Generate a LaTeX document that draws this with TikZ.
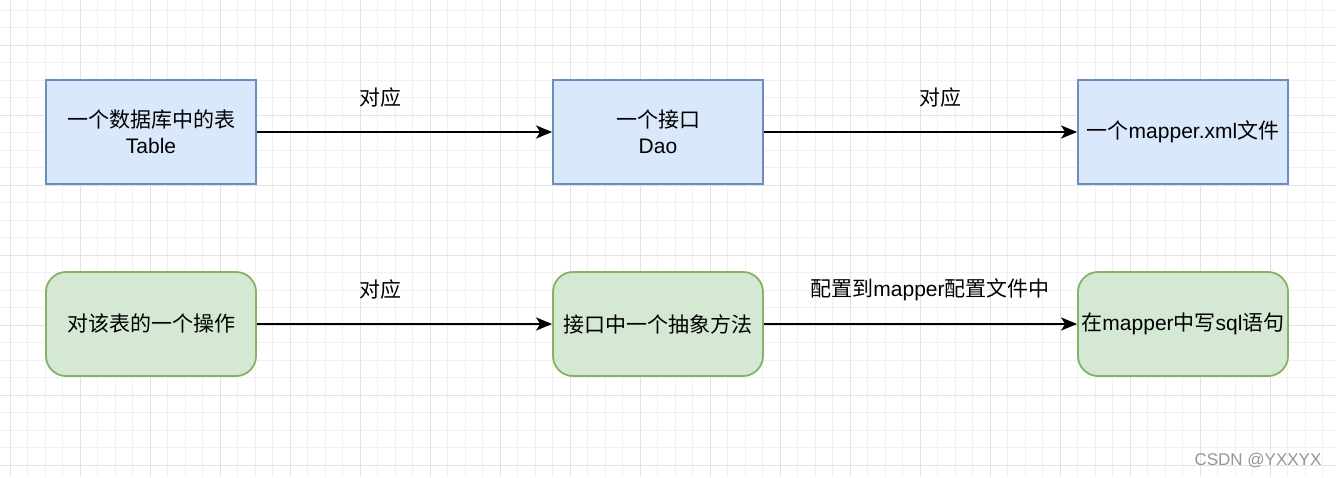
\documentclass[tikz,border=0pt]{standalone}
\usepackage{fontspec}
\setmainfont{Liberation Sans}
\newfontfamily\cjk{Noto Sans CJK SC}
\usetikzlibrary{arrows.meta}
\tikzset{
  bluebox/.style={draw={rgb,255:red,108;green,142;blue,191}, fill={rgb,255:red,218;green,232;blue,252}, line width=1.8pt, minimum width=210pt, minimum height=104pt, align=center, inner sep=0pt, font=\fontsize{21}{26}\selectfont},
  greenbox/.style={draw={rgb,255:red,130;green,179;blue,102}, fill={rgb,255:red,213;green,232;blue,212}, line width=1.8pt, rounded corners=20pt, minimum width=210pt, minimum height=104pt, align=center, inner sep=0pt, font=\fontsize{21}{26}\selectfont},
  lbl/.style={inner sep=0pt, font=\fontsize{21}{26}\selectfont},
  arr/.style={line width=2pt, -{Stealth[length=16pt,width=13pt,inset=4pt]}},
  minorgrid/.style={draw={rgb,255:red,240;green,240;blue,240}, line width=0.8pt},
  majorgrid/.style={draw={rgb,255:red,226;green,226;blue,226}, line width=0.9pt}
}
\begin{document}
\begin{tikzpicture}[x=1pt,y=-1pt]
\fill[white] (0,0) rectangle (1336,477);
\useasboundingbox (0,0) rectangle (1336,477);
\begin{scope}
\clip (0,0) rectangle (1336,477);
\foreach \i in {0,...,78} {
  \draw[minorgrid] ({-7.5+17.5*\i},0) -- ({-7.5+17.5*\i},477);
}
\foreach \i in {0,...,28} {
  \draw[minorgrid] (0,{-7.5+17.5*\i}) -- (1336,{-7.5+17.5*\i});
}
\foreach \i in {0,...,19} {
  \draw[majorgrid] ({10+70*\i},0) -- ({10+70*\i},477);
}
\foreach \i in {-1,...,7} {
  \draw[majorgrid] (0,{45+70*\i}) -- (1336,{45+70*\i});
}
\end{scope}

\node[bluebox] (t1) at (151,132) {{\cjk 一个数据库中的表}\\Table};
\node[bluebox] (t2) at (658,132) {{\cjk 一个接口}\\Dao};
\node[bluebox] (t3) at (1183,132) {{\cjk 一个}mapper.xml{\cjk 文件}};

\node[greenbox] (b1) at (151,324) {\cjk 对该表的一个操作};
\node[greenbox] (b2) at (658,324) {\cjk 接口中一个抽象方法};
\node[greenbox] (b3) at (1183,324) {{\cjk 在}mapper{\cjk 中写}sql{\cjk 语句}};

\draw[arr] (t1) -- (t2);
\draw[arr] (t2) -- (t3);
\draw[arr] (b1) -- (b2);
\draw[arr] (b2) -- (b3);

\node[lbl] (l1) at (380,98) {\cjk 对应};
\node[lbl] (l2) at (940,98) {\cjk 对应};
\node[lbl] (l3) at (380,290) {\cjk 对应};
\node[lbl] (l4) at (930,290) {{\cjk 配置到}mapper{\cjk 配置文件中}};

\node[inner sep=0pt, text={rgb,255:red,150;green,150;blue,150}, font=\fontsize{17}{20}\selectfont] (wm) at (1258,461) {CSDN @YXXYX};
\end{tikzpicture}
\end{document}
